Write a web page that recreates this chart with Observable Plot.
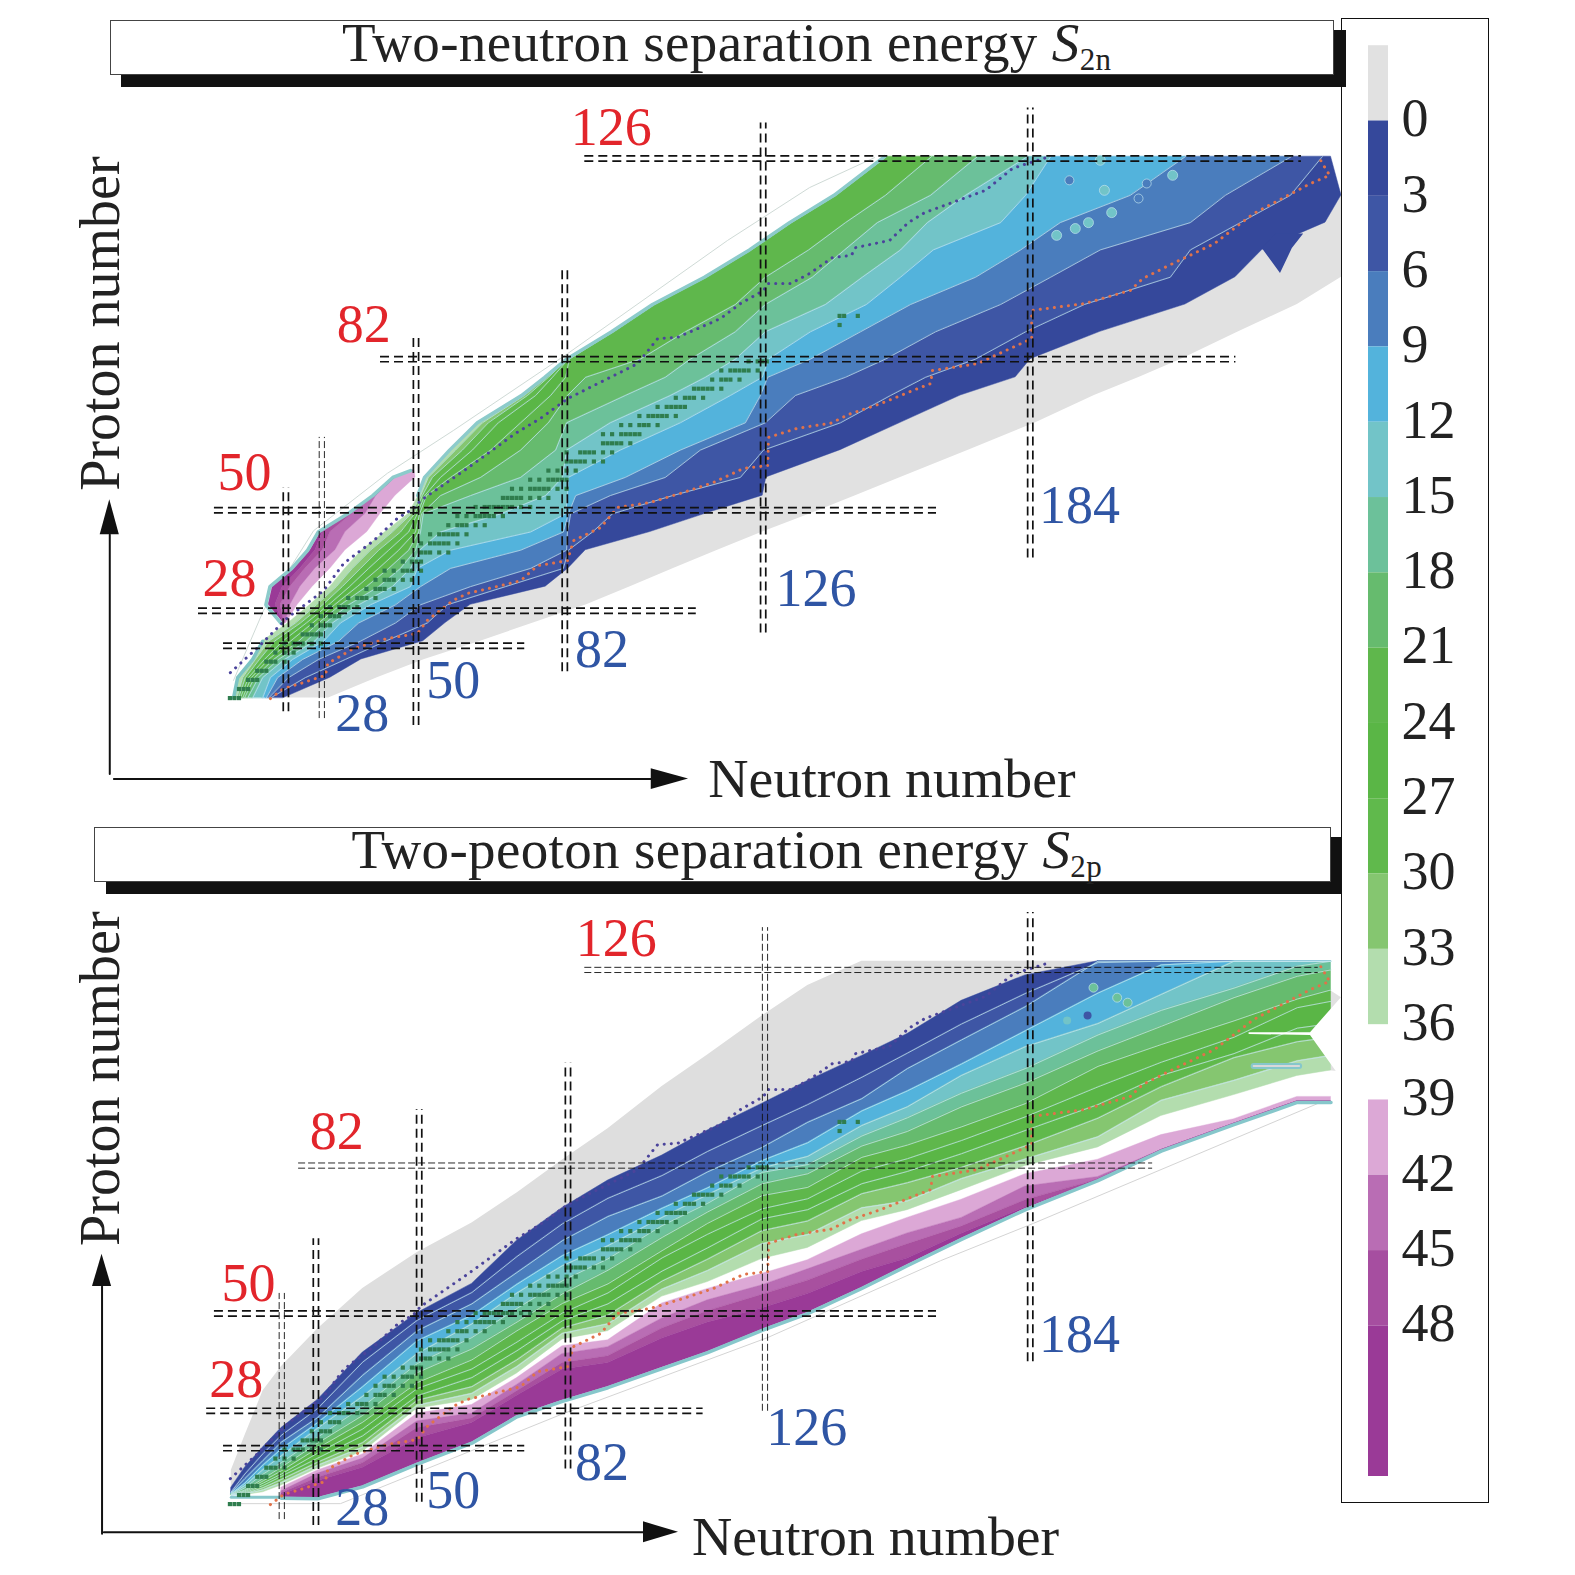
<!DOCTYPE html>
<html><head><meta charset="utf-8">
<script src="https://cdn.jsdelivr.net/npm/d3@7"></script>
<script src="https://cdn.jsdelivr.net/npm/@observablehq/plot@0.6"></script>
<style>
html,body{margin:0;padding:0;background:#fff}
#page{position:relative;width:1575px;height:1575px;overflow:hidden;font-family:"Liberation Serif",serif;color:#222}
#page svg{position:absolute;left:0;top:0}
.titlebox{position:absolute;background:#fff;border:1px solid #444;box-sizing:border-box;text-align:center;font-size:55px;line-height:43px;letter-spacing:.35px;white-space:nowrap;z-index:3}
.titlebox sub{font-size:31px;line-height:0;vertical-align:-9px}
.bar{position:absolute;background:#111;z-index:2}
#frame{position:absolute;left:1341px;top:18px;width:148px;height:1485px;border:1.5px solid #111;box-sizing:border-box;z-index:1}
</style></head><body><div id="page"></div>
<script>
// ---------- shared nuclear data (N, Z) ----------
const protonLineN=[8.1,14.1,20.7,28.6,33,39.6,44.8,48.4,49.9,60.2,70.8,76.3,82.2,88.8,97.6,102,106.4,110.8,115.8,120.2,125.3,126.2,131.2,135.4,140.4,144.6,145.5,153,157.1,160.7,168.1,174.1,180,183.3,187.5];
const protonLineZ=[13.6,19.1,25.7,31.6,37.6,42.6,47.5,49.7,51.4,58.5,66.2,69.5,73.8,77.1,81.5,87,87.3,89.2,91.4,94.7,97.6,99.1,99.1,101.3,104.8,105.3,107,108.6,112.5,114.7,117.4,119.6,124.4,125.5,126.8];
const neutronLineN=[16.9,19.8,23.5,29,29.5,35.2,42.6,49.2,51.4,57.1,60.2,67.5,71.9,75.6,82.2,83.5,89.5,93.2,100.4,107.7,114.3,120.9,126.2,126.4,132.7,140,144.4,151,159.1,162,162.4,172.3,184.2,184.2,195.8,205.9,208.6,215.2,224.4,233,245.5,249.7,247.7];
const neutronLineZ=[7.9,10.1,11.2,13,15.6,18.9,21.1,22.2,25.1,29.5,31,32.7,33.8,37.1,38.2,42.6,45.5,49.9,51,53.2,55.4,58.5,59.1,65.3,67.3,68.4,70.5,72.7,76,77.1,80,81.5,87,93.2,94.7,97.6,100.2,103.5,107.9,114.5,121.1,122.9,126.2];
const stable=[[8,[8,9,10]],[10,[10,11,12]],[12,[12,13,14]],[14,[14,15,16]],[16,[16,17,18,20]],[18,[18,20,22]],[20,[20,22,23,24,26,28]],[22,[24,25,26,27,28]],[24,[26,28,29,30]],[26,[28,30,31,32]],[28,[30,32,33,34,36]],[30,[34,36,37,38,40]],[32,[38,40,41,42,44]],[34,[40,42,43,44,46,48]],[36,[42,44,46,47,48,50]],[38,[46,48,49,50]],[40,[50,51,52,54,56]],[42,[50,52,53,54,55,56,58]],[44,[52,54,55,56,57,58,60]],[46,[56,58,59,60,62,64]],[48,[58,60,62,63,64,65,66,68]],[50,[62,64,65,66,67,68,69,70,72,74]],[52,[68,69,70,71,72,74,76,78]],[54,[70,72,74,75,76,77,78,80,82]],[56,[74,76,78,79,80,81,82]],[58,[78,80,82,84]],[60,[82,83,84,85,86,88,90]],[62,[82,85,86,87,88,90,92]],[64,[90,91,92,93,94,96]],[66,[90,92,94,95,96,97,98]],[68,[94,96,98,99,100,102]],[70,[98,100,101,102,103,104,106]],[72,[102,104,105,106,107,108]],[74,[106,108,109,110,112]],[76,[110,111,112,113,114,116]],[78,[114,116,117,118,120]],[80,[116,118,119,120,121,122,124]],[82,[122,124,125,126]],[90,[142]],[92,[142,143,146]]];

// ---------- colours of the S bands ----------
const grayCol="#E1E1E1";
const bandCols=["#35489B","#3E56A5","#4A7DBD","#53B3DC","#72C4C8","#6CC19A","#66BB6E","#5FB74C","#5AB646","#60B94C","#85C670","#B3DDAE"];
const purpleCols=["#DCA8D6","#B96DB4","#A8509F","#9A3A97"];
const legendTicks=[0,3,6,9,12,15,18,21,24,27,30,33,36,39,42,45,48];

// ---------- top panel: N of each isoline per proton row ----------
const rowZ=[8,12.5,16.5,20.5,24.5,28.5,32.5,36.5,40.5,44.5,48.5,52.5,56.5,62.5,68.5,74.5,78.5,82.5,88.5,94.5,100.5,106.5,112.5,118.5,127];
const topG =[29.7,40.4,50.8,63.1,74.7,86.4,96,105.5,115.2,125.1,135.6,145.5,155.4,170.3,185.1,198,207.9,217.1,229.7,242.6,252.3,252.3,252.3,252.3,250];
const topS0=[19.8,30.1,36.9,50.5,55.4,60.9,77.4,82.4,86.2,100.4,112.5,125.1,125.9,142.2,155.4,168.6,180.7,184,199.3,218,229,234.9,248.8,252.3,250];
const topS3=[16.9,24.6,33.4,42.2,51.4,55.8,68.6,81.3,82.4,87.7,92.1,105.3,120.2,125.3,142.2,153.2,160.9,171.9,182.9,195.8,214.7,219.1,230.1,241.1,248.1];
const topS6=[16.5,20.9,27.5,36.7,44.4,49.9,60.9,74.1,82,82.2,82.9,91.6,103.7,111.4,125.7,132.3,143.3,152.1,163.1,177.4,188.4,199.3,219.1,226.8,241.3];
const topS9=[16,18.5,24,31.9,36.3,44.4,49.9,56.5,71.9,81.3,82.4,84,94.9,107,121.3,124.6,126.2,135.6,146.6,157.6,171.9,181.8,190.5,205.9,218];
const topS12=[15.2,16.9,21.8,28.6,32.3,38.9,47.7,49.2,56.5,74.1,81.8,82.2,82.4,93.8,107,118,125,126.4,135.6,147.9,155.4,162.6,177.4,182.9,188.4];
const topS15=[13,15.2,20,26.6,30.5,36.3,43.7,47.7,49.7,54.3,67.5,77.4,81.1,82,91.6,104.8,112.5,119.1,125.7,138.9,147,155.4,161.3,169.7,183.3];
const topS18=[11.9,14.3,18.7,24.8,29,34.1,40.7,45.5,48.8,49.9,50.5,60.9,71.9,79.6,82,94.9,103.7,109.2,119.1,125.7,136,143.1,150.3,162,172.3];
const topS21=[11.2,13.4,17.6,23.1,27.5,32.3,38,42.9,47.3,49.5,50.1,54.3,63.1,71.9,78,82.2,86.2,98.2,108.1,119.1,125.7,135.2,143.3,152.1,162.2];
const topS24=[10.8,12.7,16.5,21.3,26.2,31,36,40.7,45.1,48.8,49.7,51.2,56.5,65.3,71.9,78.5,81.8,82.6,92.3,101.3,112.7,122.6,131.4,141.2,152.3];
const topS27=[10.3,12.1,15.6,19.6,24.8,29.7,34.3,38.5,42.9,47.3,49.2,50.8,54.3,61.3,67,75.2,78.9,82.4,92.1,101.1,112.5,122.4,131.2,141,152.1];
const topS30=[9.9,11.4,14.5,17.8,23.5,28.4,32.7,36.7,40.7,45.5,48.6,50.3,52.5,59.1,64.8,73.4,78,82.2,92.1,101.1,112.5,122.4,131.2,141,152.1];
const topS33=[9.5,10.8,13.6,16.5,22.4,27,31.4,34.9,38.9,43.7,47.9,49.9,51.6,57.6,63.5,72.7,77.6,82.2,92.1,101.1,112.5,122.4,131.2,141,152.1];
const topS36=[8.8,9.7,13,15.2,20.9,25.7,30.1,33.4,37.1,42.2,47.3,49.5,51,56.5,62.6,72.3,77.4,82.2,92.1,101.1,112.5,122.4,131.2,141,152.1];
const topPurpleZ=[24.5,28.5,32.5,36.5,40.5,44.5,48.5,52.5,56.5,58];
const topP39=[20.4,22.9,26.2,30.1,33.4,38.2,41.1,44.4,48.8,48.6];
const topP42=[20.2,21.3,23.5,26.8,31.2,33.4,37.8,40.2,44.4,48.3];
const topP45=[20,19.1,21.3,24.6,28.4,30.1,34.9,40,44.4,48.3];
const topP48=[19.8,18,19.6,23.5,26.8,28.4,34.5,40,44.4,48.3];
const topEdge=[19.8,16.5,17.4,22.2,25.7,28,34.5,40,44.4,48.3];
const topThinN=[8.8,15.4,26.4,42.6,57.1,82.2,117.4,135.4,149.7];
const topThinZ=[11.9,27.3,44.8,57.4,66.8,83.7,108.6,120.2,126.8];
const spikeZ=[101.3,106.8,110], spikeA=[238.9,234.9,238], spikeB=[238.9,241.5,244];

// ---------- bottom panel: Z of each isoline per neutron column ----------
const colN=[8.3,11.3,15.3,19.3,27.3,37.2,49.2,61.2,71.1,81.1,91.1,103,113,125,135,146.9,156.9,168.8,182.8,198.8,212.7,228.7,242.6,250];
const botG=[15.4,23,32.9,38.2,46.5,55.4,63.3,69.8,76.4,83.6,90.5,99.8,106.7,115.3,122,127.3,127.3,127.3,127.3,127.3,127.3,127.3,127.3,127.3];
const botS0=[11.6,16,20.5,24.7,30.9,41.3,50,56.4,65.9,73.1,79.1,84.6,90.1,96,101,106.5,111.3,118.6,124.2,127.3,127.3,127.3,127.3,127.3];
const botS3=[10.7,14.6,19.1,23.1,29,39.2,48.4,54.5,62.4,69.6,75.2,80.2,85.5,91.2,95.8,101.8,107.1,113.5,120.2,127,127.3,127.3,127.3,127.3];
const botS6=[10.5,13.6,17.6,21.6,27,36.3,46.1,52,58.9,65.9,71.2,75.7,81,86.4,91.9,97.1,103.7,110,117.3,127.3,127.3,127.3,127.3,127.3];
const botS9=[10.3,12.6,16.6,20.1,25.9,33.8,43.9,49.5,56.3,62.6,67.2,73,77.5,83.5,87.4,94.4,98.8,104.7,112,120.3,126.5,127.3,127.3,127.3];
const botS12=[10.2,12.1,15.6,18.6,24.7,31.7,41.1,47.6,54.4,60.4,64.8,71,76,81.9,84.4,91.2,95.3,102.2,108.5,113.6,120,127.3,127.3,127.3];
const botS15=[10.1,11.6,14.6,17.1,22.7,29.4,38.9,44.6,51,57.1,61.9,69.2,74.1,80.9,82.6,88.9,92.9,98.3,103.7,111.1,116.5,121.4,126.2,127.3];
const botS18=[10.1,11.1,13.6,16.1,21.4,27.5,36.9,42.1,48,54.2,59.4,66.6,72.2,78.4,80.6,86.7,89.9,95.3,100.5,107.6,113,119.3,124,125.4];
const botS21=[10,10.9,13.1,15.3,20.3,26,34.7,39.7,46.1,52.1,56.4,63.7,69.7,75.8,77.6,84.2,86.9,90.9,96,104.2,109,114.2,119,121];
const botS24=[10,10.7,12.6,14.6,19.2,24.5,33.4,37.7,43.6,50,54.4,62.1,67.3,72.9,75.1,81.2,83.9,87.9,93.1,99.7,105.1,110.6,117.1,118.5];
const botS27=[10,10.5,12.1,14.1,18.1,23,31.8,35.8,41.7,48.3,52,59.2,64.3,70.7,72.7,78.4,81.1,85,90.1,95.8,102.2,107,112.6,113.6];
const botS30=[10,10.3,11.6,13.4,17.2,21.5,30.8,33.8,39.7,46.7,49.5,57,61.8,68.1,70.2,76.2,78.6,82,86.7,92.8,99.7,106.1,109.6,110.6];
const botS33=[10,10.2,11.1,12.7,16.5,20.5,29.7,32.3,38.2,45.5,47.6,55.2,59.3,65.2,67.2,73.1,74.6,79.5,83.8,88.7,96.7,101.1,105.4,106.6];
const botS36=[10,10,10.6,12.1,15.8,19.5,29,30.9,36.7,44.2,46,53.6,56.8,61.9,64.3,70.2,72.6,77,82.3,86.4,93.3,97.9,102.1,103.3];
const botPurpleN=colN.slice(3);
const botP39=[11.6,15.4,18.9,27.9,29.8,35.7,42.7,44,52.1,55.3,58.6,61.6,67.3,70.9,74.9,80.5,83.7,89.1,92.6,97.5,97.5];
const botP42=[10.8,14.7,18,26.2,27.9,34.2,41,42.5,48.8,52.8,56.1,59.6,63.9,67.5,70.9,77.8,79.9,85.8,91.6,96.5,96.5];
const botP45=[10.4,13.8,17,24.7,26.8,32.8,39,40.5,46.6,50.4,54,57.1,61.7,65.1,69,74.8,79.3,85.8,91.6,96.5,96.5];
const botP48=[10,13.1,16,22.5,25.8,31.8,37.6,39,44.4,47.9,51,54.2,59,62,67.4,73.2,79.3,85.8,91.6,96.5,96.5];
const botEdge=[9.5,9.4,12,17,21.6,27.4,30.8,33.8,38,41.5,46.4,50.1,55.6,60.6,66.4,72.9,79.3,85.8,91.6,96.5,96.5];
const botThinN=[9.2,32.3,81.3,126.2,164.2,184.6,247];
const botThinZ=[8.1,8.1,27.9,44.6,61.5,69.7,96];
const botBaseN=[8.3,19.3];
const botBaseZ=[9.5,9.5];
const notchN=[232,245.5,252.3];
const notchLo=[111.2,111,101.5];
const notchHi=[111.6,111.6,119.3];
const wedgeN=[240,252.3];
const wedgeLo=[104,103];
const wedgeHi=[127.3,119.3];
const stripN=[233,243];
const stripZ=[104.3,104.3];

// ---------- magic-number guide lines (positions as drawn in the picture) ----------
const topMagicN=[20.3,28.2,48.9,81.6,125.2,183.9];
const topMagicNFrom=[5,3.5,2,13.8,22.3,38.8];
const topMagicNTo=[54.3,65.3,87.8,102.8,134.4,137.7];
const topMagicNWidth=[1.7,0.9,1.7,1.7,1.7,1.7];
const topMagicZ=[19.5,27.2,49.3,82.5,126.6];
const topMagicZFrom=[6.6,1.1,4.6,41.1,86];
const topMagicZTo=[72.8,110.5,163.3,229.1,243.5];
const topMagicZWidth=[1.7,1.7,1.7,1.7,1.7];
const botMagicN=[19.4,26.9,49.6,82.3,125.6,183.9];
const botMagicNFrom=[4.6,3.3,8.4,15.7,28.4,39.3];
const botMagicNTo=[54.3,66.3,94.7,105,134.7,138];
const botMagicNWidth=[0.9,1.7,1.7,1.7,0.9,1.7];
const botMagicZ=[20.3,28.5,49.9,82.4,125.4];
const botMagicZFrom=[6.6,2.9,4.6,23.1,86];
const botMagicZTo=[72.8,112,163.3,210.8,247.2];
const botMagicZWidth=[1.7,1.7,1.7,0.9,0.9];

// ---------- labels ----------
const topBlueText=["28","50","82","126","184"], topBlueN=[37.1,57.1,89.8,136.8,194.7], topBlueZ=[4.6,11.8,18.7,32.1,50.2];
const topRedText=["50","28","82","126"], topRedN=[11.2,7.9,37.4,91.8], topRedZ=[57.5,34.3,90,133.3];
const botBlueText=["28","50","82","126","184"], botBlueN=[37.1,57.1,89.8,134.8,194.7], botBlueZ=[7.3,10.9,17,24.8,45.3];
const botRedText=["50","28","82","126"], botRedN=[12.1,9.4,31.5,92.9], botRedZ=[56.5,35.3,89.8,132.2];

// ---------- scattered contour islands ----------
const topTealN=[189.7,193.8,196.7,201.8,200.2,215.2,199.3], topTealZ=[109.7,111.2,112.5,114.7,119.6,122.9,126.2];
const topMidN=[192.5,209.5,207.7], topMidZ=[121.8,121.1,117.8];
const botGreenTealN=[197.8,203,205.3], botGreenTealZ=[121.5,119.3,118.2];
const botMidN=[196.5], botMidZ=[115.4];
const botTealN=[192], botTealZ=[114.3];

const page=document.getElementById("page");
const zip2=(a,b)=>a.map((v,i)=>({a:v,b:b[i]}));
const font="Liberation Serif";
const stablePts=stable.flatMap(([z,ns])=>ns.map(n=>({n,z})));

function common(){
  return [
    Plot.line(zip2(protonLineN,protonLineZ),{x:"a",y:"b",stroke:"#4B449B",strokeWidth:3,strokeDasharray:"0.1 7",strokeLinecap:"round"}),
    Plot.line(zip2(neutronLineN,neutronLineZ),{x:"a",y:"b",stroke:"#E0724A",strokeWidth:3,strokeDasharray:"0.1 7",strokeLinecap:"round"}),
    Plot.dot(stablePts,{x:"n",y:"z",symbol:"square",r:2.35,fill:"#2F7D4E"})
  ];
}
function guides(mN,nFrom,nTo,nW,mZ,zFrom,zTo,zW){
  const out=[];
  mN.forEach((n,i)=>{
    const d=[{n,a:nFrom[i],b:nTo[i]}];
    const st={stroke:"#111",strokeWidth:nW[i],strokeDasharray:nW[i]<1?"7 3":"9 5"};
    out.push(Plot.ruleX(d,{x:"n",y1:"a",y2:"b",dx:-2.6,...st}),Plot.ruleX(d,{x:"n",y1:"a",y2:"b",dx:2.6,...st}));
  });
  mZ.forEach((z,i)=>{
    const d=[{z,a:zFrom[i],b:zTo[i]}];
    const st={stroke:"#111",strokeWidth:zW[i],strokeDasharray:zW[i]<1?"7 3":"9 5"};
    out.push(Plot.ruleY(d,{y:"z",x1:"a",x2:"b",dy:-2.6,...st}),Plot.ruleY(d,{y:"z",x1:"a",x2:"b",dy:2.6,...st}));
  });
  return out;
}
function labels(text,ns,zs,col){
  return Plot.text(text.map((t,i)=>({t,n:ns[i],z:zs[i]})),{x:"n",y:"z",text:"t",fill:col,fontSize:54,fontFamily:font});
}
function axesMarks(hZ,hFrom,hBase,hTip,vN,vFrom,vBase,vTip,nLabel,zLabel,nTitleN,nTitleZ){
  return [
    Plot.line([{n:hFrom,z:hZ},{n:hBase,z:hZ}],{x:"n",y:"z",stroke:"#111",strokeWidth:2}),
    Plot.areaY([{n:hBase,a:hZ-2.3,b:hZ+2.3},{n:hTip,a:hZ,b:hZ}],{x:"n",y1:"a",y2:"b",fill:"#111"}),
    Plot.line([{n:vN,z:vFrom},{n:vN,z:vBase}],{x:"n",y:"z",stroke:"#111",strokeWidth:2}),
    Plot.areaX([{z:vBase,a:vN-2.1,b:vN+2.1},{z:vTip,a:vN,b:vN}],{y:"z",x1:"a",x2:"b",fill:"#111"}),
    Plot.text([{n:nTitleN,z:nTitleZ}],{x:"n",y:"z",text:()=>"Neutron number",fontSize:55.8,fontFamily:font,fill:"#222"}),
    Plot.text([{n:nLabel,z:zLabel}],{x:"n",y:"z",text:()=>"Proton number",rotate:-90,fontSize:56,fontFamily:font,fill:"#222"})
  ];
}
function scales(y0){
  return {width:1575,height:1575,margin:0,
    x:{domain:[0,300],range:[193,193+300*4.55],axis:null},
    y:{domain:[0,150],range:[y0,y0-150*4.55],axis:null},
    style:{background:"transparent",maxWidth:"none",overflow:"visible"}};
}

// ---------- top panel ----------
const topLines=[topS0,topS3,topS6,topS9,topS12,topS15,topS18,topS21,topS24,topS27,topS30,topS33,topS36];
const topBands=[];
topBands.push(Plot.areaX(rowZ.map((z,j)=>({z,a:topG[j],b:topS0[j]})),{y:"z",x1:"a",x2:"b",fill:grayCol}));
bandCols.forEach((c,i)=>{
  topBands.push(Plot.areaX(rowZ.map((z,j)=>({z,a:topLines[i][j],b:topLines[i+1][j]})),{y:"z",x1:"a",x2:"b",fill:c,stroke:c,strokeWidth:0.5}));
});
topBands.push(Plot.areaX(spikeZ.map((z,j)=>({z,a:spikeA[j],b:spikeB[j]})),{y:"z",x1:"a",x2:"b",fill:bandCols[0]}));
const topLineMarks=topLines.slice(1,12).map(l=>Plot.line(rowZ.map((z,j)=>({z,n:l[j]})),{x:"n",y:"z",stroke:"#BFE3EE",strokeWidth:0.9,strokeOpacity:.85}));
const topP=[topP39,topP42,topP45,topP48,topEdge];
const topPurple=purpleCols.map((c,i)=>Plot.areaX(topPurpleZ.map((z,j)=>({z,a:topP[i][j],b:topP[i+1][j]})),{y:"z",x1:"a",x2:"b",fill:c,stroke:c,strokeWidth:0.4}));
const upperEdge=rowZ.map((z,j)=>({z,n:topS36[j]})).filter(d=>d.z>=52);
const lowerEdge=rowZ.map((z,j)=>({z,n:topS36[j]})).filter(d=>d.z<=21);
const topPlot=Plot.plot({...scales(734),marks:[
  Plot.line(zip2(topThinN,topThinZ),{x:"a",y:"b",stroke:"#CFDAD6",strokeWidth:1}),
  ...topBands,...topLineMarks,...topPurple,
  Plot.line(topPurpleZ.map((z,j)=>({z,n:topEdge[j]-0.6})),{x:"n",y:"z",stroke:"#8CCBCB",strokeWidth:3.5}),
  Plot.line(upperEdge,{x:"n",y:"z",dx:-1,stroke:"#8CCBCB",strokeWidth:3.5}),
  Plot.line(lowerEdge,{x:"n",y:"z",stroke:"#7CC4C4",strokeWidth:3.5}),
  Plot.dot(zip2(topTealN,topTealZ),{x:"a",y:"b",r:5,fill:"#72C4C8",stroke:"#BFE3EE",strokeWidth:.7}),
  Plot.dot(zip2(topMidN,topMidZ),{x:"a",y:"b",r:4.5,fill:"#4A7DBD",stroke:"#BFE3EE",strokeWidth:.7}),
  ...common(),
  ...guides(topMagicN,topMagicNFrom,topMagicNTo,topMagicNWidth,topMagicZ,topMagicZFrom,topMagicZTo,topMagicZWidth),
  labels(topBlueText,topBlueN,topBlueZ,"#2F55A4"),
  labels(topRedText,topRedN,topRedZ,"#E2252B"),
  ...axesMarks(-9.8,-17.5,100.6,108.8,-18.4,-8.7,43.9,51.6,-20.3,90.3,153.5,-9.8)
]});
page.appendChild(topPlot);

// ---------- bottom panel ----------
const botLines=[botS0,botS3,botS6,botS9,botS12,botS15,botS18,botS21,botS24,botS27,botS30,botS33,botS36];
const botBands=[];
botBands.push(Plot.areaY(zip2(wedgeLo,wedgeHi).map((d,j)=>({n:wedgeN[j],...d})),{x:"n",y1:"a",y2:"b",fill:grayCol}));
botBands.push(Plot.areaY(colN.map((n,j)=>({n,a:botS0[j],b:botG[j]})),{x:"n",y1:"a",y2:"b",fill:"#DEDEDE"}));
bandCols.forEach((c,i)=>{
  botBands.push(Plot.areaY(colN.map((n,j)=>({n,a:botLines[i][j],b:botLines[i+1][j]})),{x:"n",y1:"a",y2:"b",fill:c,stroke:c,strokeWidth:0.5}));
});
const botLineMarks=botLines.slice(1,12).map(l=>Plot.line(colN.map((n,j)=>({n,z:l[j]})),{x:"n",y:"z",stroke:"#C4E6EE",strokeWidth:0.9,strokeOpacity:.85}));
const botP=[botP39,botP42,botP45,botP48,botEdge];
const botPurple=purpleCols.map((c,i)=>Plot.areaY(botPurpleN.map((n,j)=>({n,a:botP[i][j],b:botP[i+1][j]})),{x:"n",y1:"a",y2:"b",fill:c,stroke:c,strokeWidth:0.4}));
const botPlot=Plot.plot({...scales(1540),marks:[
  Plot.line(zip2(botThinN,botThinZ),{x:"a",y:"b",stroke:"#D4D4D4",strokeWidth:1}),
  ...botBands,...botLineMarks,...botPurple,
  Plot.line(zip2(botPurpleN,botEdge),{x:"a",y:"b",dy:1,stroke:"#86C7CB",strokeWidth:3.5}),
  Plot.line(zip2(botBaseN,botBaseZ),{x:"a",y:"b",stroke:"#86C7CB",strokeWidth:3}),
  Plot.areaY(notchN.map((n,j)=>({n,a:notchLo[j],b:notchHi[j]})),{x:"n",y1:"a",y2:"b",fill:"#fff"}),
  Plot.line(zip2(stripN,stripZ),{x:"a",y:"b",stroke:"#86C7CB",strokeWidth:6}),
  Plot.line(zip2(stripN,stripZ),{x:"a",y:"b",stroke:"#D8D8D8",strokeWidth:2}),
  Plot.dot(zip2(botGreenTealN,botGreenTealZ),{x:"a",y:"b",r:4.5,fill:"#6CC19A",stroke:"#BFE3EE",strokeWidth:.7}),
  Plot.dot(zip2(botMidN,botMidZ),{x:"a",y:"b",r:4,fill:"#3E56A5"}),
  Plot.dot(zip2(botTealN,botTealZ),{x:"a",y:"b",r:4,fill:"#72C4C8"}),
  ...common(),
  ...guides(botMagicN,botMagicNFrom,botMagicNTo,botMagicNWidth,botMagicZ,botMagicZFrom,botMagicZTo,botMagicZWidth),
  labels(botBlueText,botBlueN,botBlueZ,"#2F55A4"),
  labels(botRedText,botRedN,botRedZ,"#E2252B"),
  ...axesMarks(1.8,-19.7,98.9,106.6,-20.1,1.5,55.8,62.9,-20.3,101.5,149.9,0.66)
]});
page.appendChild(botPlot);

// ---------- colour legend ----------
const legendSteps=[[-3,0,grayCol],...bandCols.map((c,i)=>[i*3,i*3+3,c]),
  [39,42,purpleCols[0]],[42,45,purpleCols[1]],[45,48,"#A64EA0"],[48,54,purpleCols[3]]];
const legendPlot=Plot.plot({width:1575,height:1575,margin:0,
  x:{domain:[0,1],range:[1368,1388],axis:null},
  y:{domain:[-3,54],range:[45.2,1476],axis:null},
  style:{background:"transparent",maxWidth:"none"},
  marks:[
    Plot.rect(legendSteps,{x1:()=>0,x2:()=>1,y1:d=>d[0],y2:d=>d[1],fill:d=>d[2]}),
    Plot.text(legendTicks,{x:()=>1,y:d=>d,text:d=>String(d),dx:13,dy:-2,textAnchor:"start",fontSize:54,fontFamily:font,fill:"#222"})
  ],color:{type:"identity"}});
page.appendChild(legendPlot);

// ---------- frames and titles ----------
function box(cls,l,t,w,h,html,pad){
  const d=document.createElement("div");d.className=cls;
  d.style.left=l+"px";d.style.top=t+"px";d.style.width=w+"px";d.style.height=h+"px";
  if(pad)d.style.paddingLeft=pad+"px";
  if(html)d.innerHTML=html;page.appendChild(d);return d;
}
const fr=document.createElement("div");fr.id="frame";page.appendChild(fr);
box("bar",120.5,75,1225.5,11.5);box("bar",1334,30,12,56.5);
box("bar",105.5,882,1235.5,12);box("bar",1331,837,10,57);
box("titlebox",109.5,20,1224.5,55.3,'Two-neutron separation energy <i>S</i><sub>2n</sub>',10);
box("titlebox",94.4,826.7,1236.6,55.3,'Two-peoton separation energy <i>S</i><sub>2p</sub>',28);
</script></body></html>
